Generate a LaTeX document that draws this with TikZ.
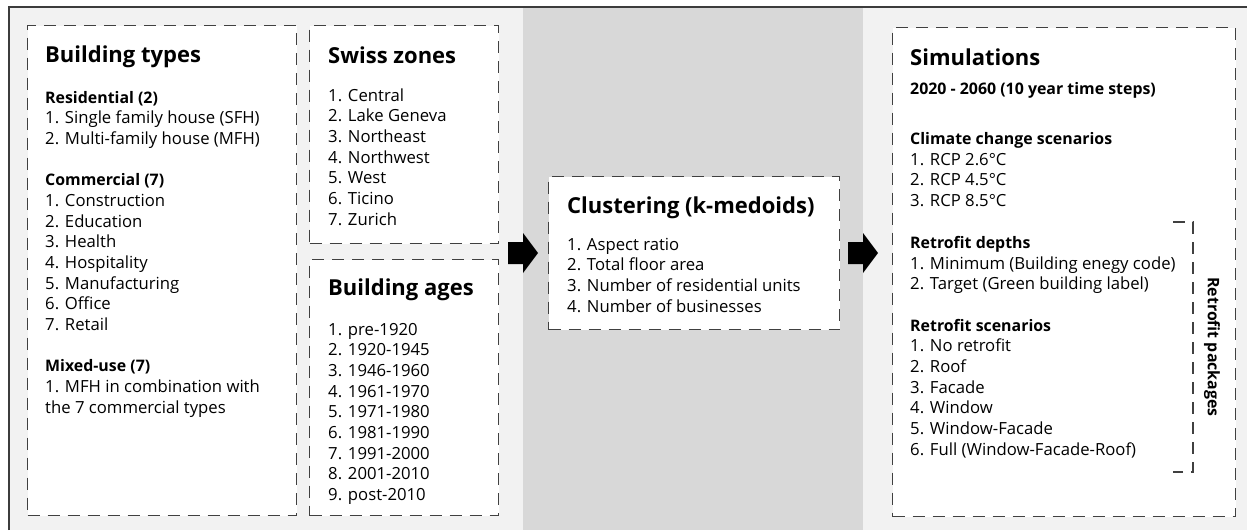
\documentclass[tikz,border=0pt]{standalone}
\usepackage{fontspec}
\setmainfont{Open Sans}
\definecolor{panel}{HTML}{F2F2F2}
\definecolor{band}{HTML}{D8D8D8}
\definecolor{edge}{HTML}{404040}
\definecolor{frameline}{HTML}{3C3C3C}

\tikzset{
  box/.style={draw=edge, line width=1.3pt, dash pattern=on 12pt off 8pt,
    fill=white, anchor=north west, inner sep=0pt},
  bracketline/.style={draw=edge, line width=1.2pt, dash pattern=on 12pt off 8pt},
  title/.style={anchor=base west, inner sep=0pt,
    font=\fontsize{22}{26}\selectfont\bfseries},
  item/.style={anchor=base west, inner sep=0pt,
    font=\fontsize{16.7}{20}\selectfont},
  hdr/.style={item, font=\fontsize{15.9}{20}\selectfont\bfseries},
  pics/blockarrow/.style={code={
    \fill[black] (0,-11) -- (15,-11) -- (15,-20) -- (30,0) -- (15,20)
      -- (15,11) -- (0,11) -- cycle;}},
}

\begin{document}
\begin{tikzpicture}[x=1pt,y=-1pt]
\useasboundingbox (0,0) rectangle (1247,530);

% background panels and frame
\fill[panel] (9,7) rectangle (1247,530);
\fill[band] (523,7) rectangle (863,530);
\draw[frameline, line width=1.5pt] (9,530) -- (9,7) -- (1247,7);

% dashed boxes
\node[box, minimum width=269pt, minimum height=490pt] (types) at (27,25) {};
\node[box, minimum width=189pt, minimum height=218pt] (zones) at (309,25) {};
\node[box, minimum width=189pt, minimum height=256pt] (ages) at (309,259) {};
\node[box, minimum width=291pt, minimum height=153pt] (clust) at (548,176) {};
\node[box, minimum width=343pt, minimum height=489pt] (sims) at (892,27) {};

% block arrows between the stages
\coordinate (arrA) at (508,253);
\coordinate (arrB) at (848,253);
\pic at (arrA) {blockarrow};
\pic at (arrB) {blockarrow};

% Building types
\node[title] (typesT) at (45,62) {Building types};
\foreach \n/\t in {1/{1. Single family house (SFH)}, 2/{2. Multi-family house (MFH)},
    5/{1. Construction}, 6/{2. Education},
    7/{3. Health}, 8/{4. Hospitality}, 9/{5. Manufacturing}, 10/{6. Office},
    11/{7. Retail}, 14/{1. MFH in combination with}, 15/{the 7 commercial types}}
  \node[item] (types-\n) at (45,{103+20.67*\n}) {\t};
\foreach \n/\t in {0/{Residential (2)}, 4/{Commercial (7)}, 13/{Mixed-use (7)}}
  \node[hdr] (types-\n) at (45,{103+20.67*\n}) {\t};

% Swiss zones
\node[title] (zonesT) at (328,63) {Swiss zones};
\foreach \n/\t in {0/{1. Central}, 1/{2. Lake Geneva}, 2/{3. Northeast},
    3/{4. Northwest}, 4/{5. West}, 5/{6. Ticino}, 6/{7. Zurich}}
  \node[item] (zones-\n) at (328,{101+20.67*\n}) {\t};

% Building ages
\node[title] (agesT) at (328,295) {Building ages};
\foreach \n/\t in {0/{1. pre-1920}, 1/{2. 1920-1945}, 2/{3. 1946-1960},
    3/{4. 1961-1970}, 4/{5. 1971-1980}, 5/{6. 1981-1990}, 6/{7. 1991-2000},
    7/{8. 2001-2010}, 8/{9. post-2010}}
  \node[item] (ages-\n) at (328,{335+20.67*\n}) {\t};

% Clustering
\node[title] (clustT) at (567,213) {Clustering (k-medoids)};
\foreach \n/\t in {0/{1. Aspect ratio}, 1/{2. Total floor area},
    2/{3. Number of residential units}, 3/{4. Number of businesses}}
  \node[item] (clust-\n) at (567,{250+20.67*\n}) {\t};

% Simulations
\node[title] (simsT) at (910,65) {Simulations};
\node[hdr] (period) at (910,94) {2020 - 2060 (10 year time steps)};
\node[hdr] (climT) at (910,144.5) {Climate change scenarios};
\foreach \n/\t in {1/{1. RCP 2.6°C}, 2/{2. RCP 4.5°C}, 3/{3. RCP 8.5°C}}
  \node[item] (clim-\n) at (910,{144.5+20.67*\n}) {\t};
\foreach \n/\t in {1/{1. Minimum (Building enegy code)}, 2/{2. Target (Green building label)},
    5/{1. No retrofit}, 6/{2. Roof}, 7/{3. Facade}, 8/{4. Window},
    9/{5. Window-Facade}, 10/{6. Full (Window-Facade-Roof)}}
  \node[item] (retro-\n) at (910,{248.5+20.67*\n}) {\t};
\foreach \n/\t in {0/{Retrofit depths}, 4/{Retrofit scenarios}}
  \node[hdr] (retro-\n) at (910,{248.5+20.67*\n}) {\t};

% retrofit packages bracket
\coordinate (brA) at (1173,222);
\coordinate (brB) at (1193,222);
\coordinate (brC) at (1193,472);
\coordinate (brD) at (1173,472);
\draw[bracketline] (brA) -- (brB) -- (brC) -- (brD);
\node[hdr, anchor=center, rotate=-90] (packages) at (1212,347) {Retrofit packages};
\end{tikzpicture}
\end{document}
